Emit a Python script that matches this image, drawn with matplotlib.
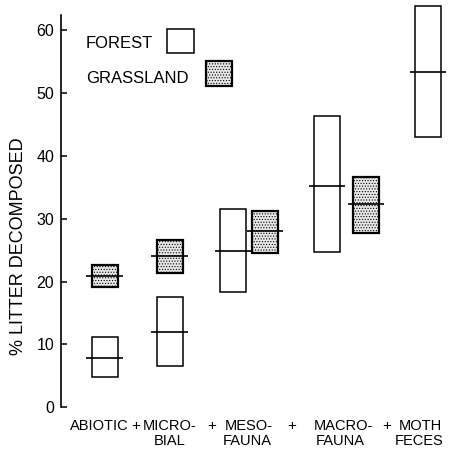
import matplotlib
matplotlib.use("Agg")
import matplotlib.pyplot as plt
from matplotlib.patches import Rectangle

plt.rcParams['font.family'] = ['Liberation Sans', 'DejaVu Sans']
plt.rcParams['hatch.linewidth'] = 0.5

# ---- data ----
label_line1 = ["ABIOTIC", "MICRO-", "MESO-", "MACRO-", "MOTH"]
label_line2 = ["", "BIAL", "FAUNA", "FAUNA", "FECES"]
forest_low = [4.8, 6.5, 18.4, 24.7, 43.0]
forest_mean = [7.9, 12.0, 24.9, 35.2, 53.4]
forest_high = [11.15, 17.6, 31.5, 46.3, 63.8]
grass_low = [19.2, 21.4, 24.6, 27.8]
grass_mean = [20.95, 24.1, 28.1, 32.3]
grass_high = [22.7, 26.6, 31.3, 36.7]
yticks = [0, 10, 20, 30, 40, 50, 60]

# ---- layout ----
forest_x = [0.67, 1.67, 2.645, 4.09, 5.645]
grass_x = [0.67, 1.67, 3.135, 4.69]
line1_x = [0.59, 1.67, 2.892, 4.338, 5.523]
line2_x = [0.59, 1.67, 2.862, 4.292, 5.508]
plus_x = [1.154, 2.323, 3.554, 5.015]
box_w = 0.40
mean_half = 0.28

fig = plt.figure(figsize=(4.73, 4.5), dpi=100)
ax = fig.add_axes([61/473, (450-407.3)/450, 412/473, (407.3-15)/450])
ax.set_xlim(0, 412/65)
ax.set_ylim(0, 62.4)

for sp in ['top', 'right', 'bottom']:
    ax.spines[sp].set_visible(False)
ax.spines['left'].set_linewidth(1.2)
ax.set_xticks([])
ax.set_yticks(yticks)
ax.tick_params(axis='y', direction='in', length=4.5, width=1.1, labelsize=11.5, pad=5)

def draw_box(x, lo, mid, hi, grass):
    if grass:
        r = Rectangle((x - box_w/2, lo), box_w, hi - lo, facecolor='#e8e8e8',
                      edgecolor='black', linewidth=1.6, hatch='......', clip_on=False, zorder=2)
    else:
        r = Rectangle((x - box_w/2, lo), box_w, hi - lo, facecolor='white',
                      edgecolor='black', linewidth=1.1, clip_on=False, zorder=2)
    ax.add_patch(r)
    ax.plot([x - mean_half, x + mean_half], [mid, mid], color='black', lw=1.2,
            clip_on=False, zorder=3, solid_capstyle='butt')

for x, lo, mid, hi in zip(forest_x, forest_low, forest_mean, forest_high):
    draw_box(x, lo, mid, hi, False)
for x, lo, mid, hi in zip(grass_x, grass_low, grass_mean, grass_high):
    draw_box(x, lo, mid, hi, True)

# category labels below
for x, lab in zip(line1_x, label_line1):
    ax.text(x, -3.0, lab, ha='center', va='center', fontsize=10.5, clip_on=False)
for x, lab in zip(line2_x, label_line2):
    if lab:
        ax.text(x, -5.35, lab, ha='center', va='center', fontsize=10.5, clip_on=False)
for x in plus_x:
    ax.text(x, -3.0, "+", ha='center', va='center', fontsize=11, clip_on=False)

# legend
ax.text(0.385, 57.9, "FOREST", ha='left', va='center', fontsize=12)
ax.add_patch(Rectangle((1.635, 56.4), 0.41, 3.7, facecolor='white', edgecolor='black',
                       linewidth=1.1, clip_on=False))
ax.text(0.385, 52.3, "GRASSLAND", ha='left', va='center', fontsize=12)
ax.add_patch(Rectangle((2.231, 51.1), 0.395, 3.95, facecolor='#e8e8e8', edgecolor='black',
                       linewidth=1.6, hatch='......', clip_on=False))

fig.text(19/473, 1 - 246/450, "% LITTER DECOMPOSED", rotation=90, ha='center', va='center',
         fontsize=13)

fig.savefig("out.png", dpi=100)
